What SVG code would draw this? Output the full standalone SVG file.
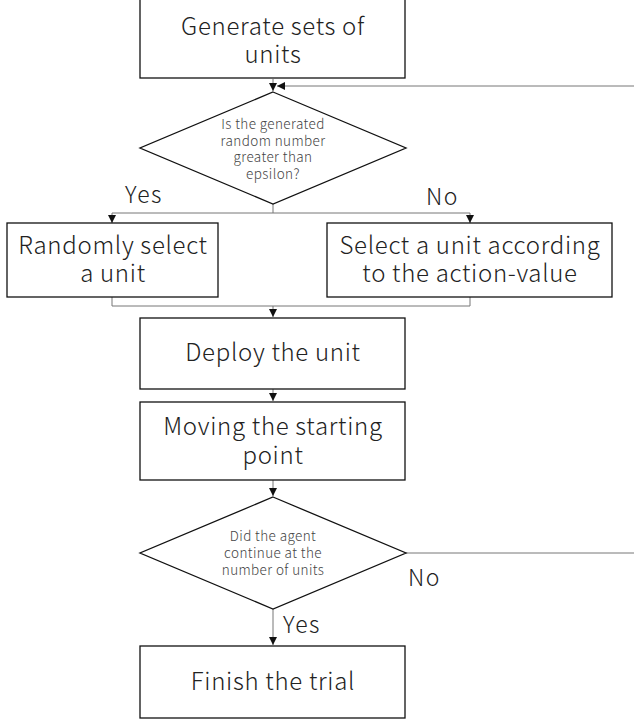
<svg xmlns="http://www.w3.org/2000/svg" width="634" height="720" viewBox="0 0 634 720">
<style>
.box{fill:#fff;stroke:#111;stroke-width:1.3}
.t{font-family:"Noto Sans CJK JP","Noto Sans",sans-serif;font-weight:300;font-size:24px;letter-spacing:0.7px;fill:#222;text-anchor:middle}
.s{font-family:"Noto Sans CJK JP","Noto Sans",sans-serif;font-weight:300;font-size:13.5px;letter-spacing:0.4px;fill:#444;text-anchor:middle}
.l{font-family:"Noto Sans CJK JP","Noto Sans",sans-serif;font-weight:300;font-size:23px;letter-spacing:1.5px;fill:#222}
.c{fill:none;stroke:#777;stroke-width:1}
</style>
<defs>
<marker id="ah" viewBox="0 0 10 10" refX="10" refY="5" markerWidth="8" markerHeight="8" markerUnits="userSpaceOnUse" orient="auto"><path d="M0,0 L10,5 L0,10 z" fill="#111"/></marker>
</defs>
<g id="connectors">
<path class="c" d="M273,79 V91" marker-end="url(#ah)"/>
<path class="c" d="M634,86 H277" marker-end="url(#ah)"/>
<path class="c" d="M273,204 V213 M112,213 H470"/>
<path class="c" d="M112,213 V223" marker-end="url(#ah)"/>
<path class="c" d="M470,213 V223" marker-end="url(#ah)"/>
<path class="c" d="M112,297 V306 H470 V297"/>
<path class="c" d="M273,306 V317" marker-end="url(#ah)"/>
<path class="c" d="M273,389 V401" marker-end="url(#ah)"/>
<path class="c" d="M273,480 V496" marker-end="url(#ah)"/>
<path class="c" d="M406,553 H634"/>
<path class="c" d="M273,609 V645" marker-end="url(#ah)"/>
<text class="l" x="125" y="203">Yes</text>
<text class="l" x="426" y="205">No</text>
<text class="l" x="408" y="586">No</text>
<text class="l" x="283" y="633">Yes</text>
</g>
<g id="n1">
<rect class="box" x="140" y="-1" width="265" height="79"/>
<text class="t" x="273" y="35">Generate sets of<tspan x="273" dy="28">units</tspan></text>
</g>
<g id="n2">
<polygon class="box" points="273,92 406,148 273,204 140,148"/>
<text class="s" x="273" y="129">Is the generated<tspan x="273" dy="16.5">random number</tspan><tspan x="273" dy="16.5">greater than</tspan><tspan x="273" dy="16.5">epsilon?</tspan></text>
</g>
<g id="n3">
<rect class="box" x="7" y="223" width="211" height="74"/>
<text class="t" x="113" y="254">Randomly select<tspan x="113" dy="28">a unit</tspan></text>
</g>
<g id="n4">
<rect class="box" x="327" y="223" width="285" height="74"/>
<text class="t" x="470" y="254">Select a unit according<tspan x="470" dy="28">to the action-value</tspan></text>
</g>
<g id="n5">
<rect class="box" x="140" y="318" width="265" height="71"/>
<text class="t" x="273" y="361">Deploy the unit</text>
</g>
<g id="n6">
<rect class="box" x="140" y="402" width="265" height="78"/>
<text class="t" x="273" y="435">Moving the starting<tspan x="273" dy="29">point</tspan></text>
</g>
<g id="n7">
<polygon class="box" points="273,497 406,553 273,609 140,553"/>
<text class="s" x="273" y="541">Did the agent<tspan x="273" dy="17">continue at the</tspan><tspan x="273" dy="17">number of units</tspan></text>
</g>
<g id="n8">
<rect class="box" x="140" y="646" width="265" height="72"/>
<text class="t" x="273" y="690">Finish the trial</text>
</g>
</svg>
